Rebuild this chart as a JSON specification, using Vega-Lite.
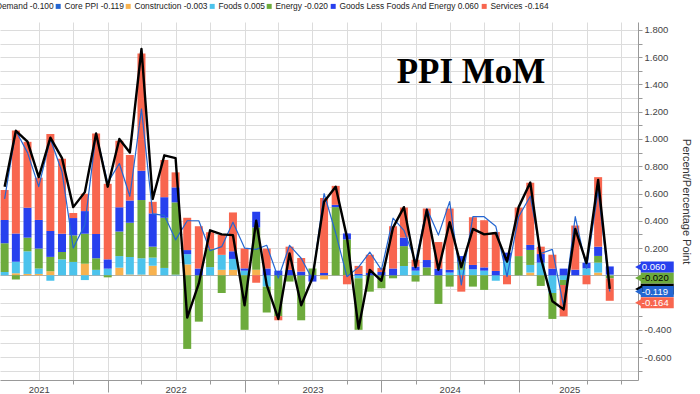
{
  "$schema": "https://vega.github.io/schema/vega-lite/v6.json",
  "width": 638,
  "height": 358,
  "autosize": {"type": "none"},
  "padding": {"left": 0, "top": 22, "right": 62, "bottom": 14},
  "background": "white",
  "config": {
    "view": {"stroke": null},
    "locale": {"number": {"decimal": ".", "thousands": ",", "grouping": [3], "currency": ["$", ""], "minus": "-"}}
  },
  "data": {"values": [
    {"date": "2021-03-31", "Final Demand": 0.65, "Core PPI": 0.56, "Construction": 0.0, "Foods": 0.025, "Energy": 0.21, "Goods Less Foods And Energy": 0.17, "Services": 0.22},
    {"date": "2021-04-30", "Final Demand": 1.06, "Core PPI": 1.06, "Construction": 0.015, "Foods": 0.085, "Energy": -0.03, "Goods Less Foods And Energy": 0.207, "Services": 0.756},
    {"date": "2021-05-31", "Final Demand": 0.98, "Core PPI": 0.9, "Construction": 0.01, "Foods": 0.166, "Energy": 0.1, "Goods Less Foods And Energy": 0.22, "Services": 0.483},
    {"date": "2021-06-30", "Final Demand": 0.72, "Core PPI": 0.65, "Construction": 0.01, "Foods": 0.04, "Energy": 0.146, "Goods Less Foods And Energy": 0.21, "Services": 0.31},
    {"date": "2021-07-31", "Final Demand": 1.01, "Core PPI": 1.0, "Construction": 0.03, "Foods": -0.04, "Energy": 0.105, "Goods Less Foods And Energy": 0.19, "Services": 0.712},
    {"date": "2021-08-31", "Final Demand": 0.86, "Core PPI": 0.76, "Construction": 0.0, "Foods": 0.117, "Energy": 0.054, "Goods Less Foods And Energy": 0.134, "Services": 0.55},
    {"date": "2021-09-30", "Final Demand": 0.5, "Core PPI": 0.2, "Construction": 0.0, "Foods": 0.098, "Energy": 0.195, "Goods Less Foods And Energy": 0.127, "Services": 0.037},
    {"date": "2021-10-31", "Final Demand": 0.61, "Core PPI": 0.37, "Construction": 0.085, "Foods": -0.035, "Energy": 0.22, "Goods Less Foods And Energy": 0.166, "Services": 0.127},
    {"date": "2021-11-30", "Final Demand": 1.04, "Core PPI": 1.04, "Construction": 0.0, "Foods": 0.04, "Energy": 0.085, "Goods Less Foods And Energy": 0.178, "Services": 0.737},
    {"date": "2021-12-31", "Final Demand": 0.65, "Core PPI": 0.68, "Construction": 0.0, "Foods": 0.049, "Energy": -0.015, "Goods Less Foods And Energy": 0.068, "Services": 0.554},
    {"date": "2022-01-31", "Final Demand": 1.0, "Core PPI": 0.82, "Construction": 0.056, "Foods": 0.085, "Energy": 0.18, "Goods Less Foods And Energy": 0.178, "Services": 0.488},
    {"date": "2022-02-28", "Final Demand": 0.9, "Core PPI": 0.58, "Construction": 0.005, "Foods": 0.13, "Energy": 0.25, "Goods Less Foods And Energy": 0.163, "Services": 0.334},
    {"date": "2022-03-31", "Final Demand": 1.66, "Core PPI": 1.22, "Construction": 0.005, "Foods": 0.12, "Energy": 0.427, "Goods Less Foods And Energy": 0.215, "Services": 0.86},
    {"date": "2022-04-30", "Final Demand": 0.56, "Core PPI": 0.45, "Construction": 0.07, "Foods": 0.06, "Energy": 0.08, "Goods Less Foods And Energy": 0.244, "Services": 0.085},
    {"date": "2022-05-31", "Final Demand": 0.88, "Core PPI": 0.44, "Construction": 0.0, "Foods": 0.054, "Energy": 0.368, "Goods Less Foods And Energy": 0.151, "Services": 0.273},
    {"date": "2022-06-30", "Final Demand": 0.86, "Core PPI": 0.26, "Construction": 0.0, "Foods": 0.005, "Energy": 0.53, "Goods Less Foods And Energy": 0.11, "Services": 0.11},
    {"date": "2022-07-31", "Final Demand": -0.31, "Core PPI": 0.4, "Construction": 0.08, "Foods": 0.075, "Energy": -0.54, "Goods Less Foods And Energy": 0.03, "Services": 0.237},
    {"date": "2022-08-31", "Final Demand": -0.06, "Core PPI": 0.4, "Construction": 0.0, "Foods": 0.0, "Energy": -0.34, "Goods Less Foods And Energy": 0.05, "Services": 0.31},
    {"date": "2022-09-30", "Final Demand": 0.33, "Core PPI": 0.18, "Construction": 0.0, "Foods": 0.06, "Energy": 0.134, "Goods Less Foods And Energy": 0.0, "Services": 0.122},
    {"date": "2022-10-31", "Final Demand": 0.3, "Core PPI": 0.21, "Construction": 0.04, "Foods": 0.11, "Energy": -0.13, "Goods Less Foods And Energy": 0.0, "Services": 0.146},
    {"date": "2022-11-30", "Final Demand": 0.295, "Core PPI": 0.39, "Construction": 0.04, "Foods": 0.08, "Energy": 0.0, "Goods Less Foods And Energy": 0.056, "Services": 0.285},
    {"date": "2022-12-31", "Final Demand": -0.22, "Core PPI": 0.2, "Construction": 0.0, "Foods": 0.034, "Energy": -0.4, "Goods Less Foods And Energy": 0.017, "Services": 0.146},
    {"date": "2023-01-31", "Final Demand": 0.4, "Core PPI": 0.19, "Construction": 0.04, "Foods": 0.0, "Energy": 0.31, "Goods Less Foods And Energy": 0.117, "Services": -0.054},
    {"date": "2023-02-28", "Final Demand": -0.07, "Core PPI": 0.22, "Construction": 0.0, "Foods": -0.083, "Energy": -0.19, "Goods Less Foods And Energy": 0.05, "Services": 0.146},
    {"date": "2023-03-31", "Final Demand": -0.32, "Core PPI": -0.02, "Construction": 0.0, "Foods": 0.0, "Energy": -0.3, "Goods Less Foods And Energy": 0.034, "Services": -0.03},
    {"date": "2023-04-30", "Final Demand": 0.16, "Core PPI": 0.22, "Construction": 0.0, "Foods": 0.0, "Energy": -0.046, "Goods Less Foods And Energy": 0.04, "Services": 0.17},
    {"date": "2023-05-31", "Final Demand": -0.22, "Core PPI": 0.125, "Construction": 0.0, "Foods": 0.0, "Energy": -0.33, "Goods Less Foods And Energy": 0.027, "Services": 0.1},
    {"date": "2023-06-30", "Final Demand": -0.02, "Core PPI": -0.03, "Construction": 0.0, "Foods": 0.0, "Energy": 0.05, "Goods Less Foods And Energy": -0.046, "Services": 0.0},
    {"date": "2023-07-31", "Final Demand": 0.54, "Core PPI": 0.6, "Construction": -0.03, "Foods": 0.0, "Energy": 0.0, "Goods Less Foods And Energy": 0.017, "Services": 0.55},
    {"date": "2023-08-31", "Final Demand": 0.65, "Core PPI": 0.31, "Construction": 0.0, "Foods": 0.0, "Energy": 0.5, "Goods Less Foods And Energy": 0.017, "Services": 0.139},
    {"date": "2023-09-30", "Final Demand": 0.28, "Core PPI": -0.01, "Construction": 0.0, "Foods": 0.0, "Energy": 0.263, "Goods Less Foods And Energy": 0.044, "Services": -0.066},
    {"date": "2023-10-31", "Final Demand": -0.39, "Core PPI": 0.06, "Construction": 0.0, "Foods": -0.022, "Energy": -0.378, "Goods Less Foods And Energy": 0.01, "Services": 0.059},
    {"date": "2023-11-30", "Final Demand": 0.04, "Core PPI": 0.17, "Construction": 0.0, "Foods": 0.0, "Energy": -0.12, "Goods Less Foods And Energy": 0.017, "Services": 0.134},
    {"date": "2023-12-31", "Final Demand": -0.04, "Core PPI": 0.04, "Construction": 0.0, "Foods": 0.0, "Energy": -0.095, "Goods Less Foods And Energy": 0.024, "Services": 0.03},
    {"date": "2024-01-31", "Final Demand": 0.35, "Core PPI": 0.42, "Construction": 0.0, "Foods": 0.0, "Energy": -0.022, "Goods Less Foods And Energy": 0.05, "Services": 0.31},
    {"date": "2024-02-29", "Final Demand": 0.5, "Core PPI": 0.33, "Construction": 0.0, "Foods": 0.068, "Energy": 0.146, "Goods Less Foods And Energy": 0.063, "Services": 0.22},
    {"date": "2024-03-31", "Final Demand": 0.06, "Core PPI": 0.1, "Construction": 0.0, "Foods": 0.034, "Energy": -0.046, "Goods Less Foods And Energy": 0.03, "Services": 0.05},
    {"date": "2024-04-30", "Final Demand": 0.48, "Core PPI": 0.49, "Construction": 0.0, "Foods": 0.0, "Energy": 0.058, "Goods Less Foods And Energy": 0.054, "Services": 0.378},
    {"date": "2024-05-31", "Final Demand": 0.04, "Core PPI": 0.295, "Construction": 0.0, "Foods": 0.0, "Energy": -0.21, "Goods Less Foods And Energy": 0.049, "Services": 0.195},
    {"date": "2024-06-30", "Final Demand": 0.39, "Core PPI": 0.54, "Construction": 0.0, "Foods": 0.02, "Energy": -0.083, "Goods Less Foods And Energy": 0.02, "Services": 0.45},
    {"date": "2024-07-31", "Final Demand": 0.06, "Core PPI": -0.07, "Construction": 0.0, "Foods": 0.04, "Energy": 0.06, "Goods Less Foods And Energy": 0.041, "Services": -0.12},
    {"date": "2024-08-31", "Final Demand": 0.34, "Core PPI": 0.43, "Construction": 0.0, "Foods": 0.044, "Energy": -0.083, "Goods Less Foods And Energy": 0.032, "Services": 0.35},
    {"date": "2024-09-30", "Final Demand": 0.3, "Core PPI": 0.43, "Construction": 0.0, "Foods": 0.034, "Energy": -0.107, "Goods Less Foods And Energy": 0.024, "Services": 0.346},
    {"date": "2024-10-31", "Final Demand": 0.31, "Core PPI": 0.36, "Construction": 0.0, "Foods": -0.04, "Energy": 0.0, "Goods Less Foods And Energy": 0.032, "Services": 0.285},
    {"date": "2024-11-30", "Final Demand": 0.1, "Core PPI": -0.01, "Construction": 0.0, "Foods": 0.107, "Energy": 0.0, "Goods Less Foods And Energy": 0.059, "Services": -0.066},
    {"date": "2024-12-31", "Final Demand": 0.5, "Core PPI": 0.43, "Construction": 0.0, "Foods": 0.0, "Energy": 0.141, "Goods Less Foods And Energy": 0.0, "Services": 0.356},
    {"date": "2025-01-31", "Final Demand": 0.68, "Core PPI": 0.58, "Construction": 0.02, "Foods": 0.056, "Energy": 0.11, "Goods Less Foods And Energy": 0.037, "Services": 0.456},
    {"date": "2025-02-28", "Final Demand": 0.13, "Core PPI": 0.16, "Construction": 0.0, "Foods": 0.093, "Energy": -0.078, "Goods Less Foods And Energy": 0.063, "Services": 0.054},
    {"date": "2025-03-31", "Final Demand": -0.19, "Core PPI": 0.19, "Construction": 0.0, "Foods": -0.13, "Energy": -0.19, "Goods Less Foods And Energy": 0.049, "Services": 0.102},
    {"date": "2025-04-30", "Final Demand": -0.25, "Core PPI": -0.23, "Construction": 0.0, "Foods": -0.034, "Energy": -0.037, "Goods Less Foods And Energy": 0.049, "Services": -0.23},
    {"date": "2025-05-31", "Final Demand": 0.34, "Core PPI": 0.43, "Construction": 0.0, "Foods": 0.0, "Energy": 0.0, "Goods Less Foods And Energy": 0.041, "Services": 0.324},
    {"date": "2025-06-30", "Final Demand": 0.09, "Core PPI": 0.05, "Construction": 0.0, "Foods": 0.051, "Energy": 0.0, "Goods Less Foods And Energy": 0.041, "Services": -0.066},
    {"date": "2025-07-31", "Final Demand": 0.7, "Core PPI": 0.62, "Construction": 0.02, "Foods": 0.073, "Energy": 0.049, "Goods Less Foods And Energy": 0.068, "Services": 0.51},
    {"date": "2025-08-31", "Final Demand": -0.1, "Core PPI": -0.119, "Construction": -0.003, "Foods": 0.005, "Energy": -0.02, "Goods Less Foods And Energy": 0.06, "Services": -0.164}
  ]},
  "transform": [
    {"fold": ["Final Demand", "Core PPI", "Construction", "Foods", "Energy", "Goods Less Foods And Energy", "Services"], "as": ["series", "value"]}
  ],
  "encoding": {
    "x": {
      "field": "date", "type": "temporal",
      "scale": {"domain": [{"year": 2021, "month": 4, "date": 1}, {"year": 2025, "month": 11, "date": 1}], "nice": false},
      "axis": {
        "title": null,
        "values": [
          {"year": 2021, "month": 6, "date": 30}, {"year": 2021, "month": 9, "date": 30}, {"year": 2021, "month": 12, "date": 31},
          {"year": 2022, "month": 3, "date": 31}, {"year": 2022, "month": 6, "date": 30}, {"year": 2022, "month": 9, "date": 30}, {"year": 2022, "month": 12, "date": 31},
          {"year": 2023, "month": 3, "date": 31}, {"year": 2023, "month": 6, "date": 30}, {"year": 2023, "month": 9, "date": 30}, {"year": 2023, "month": 12, "date": 31},
          {"year": 2024, "month": 3, "date": 31}, {"year": 2024, "month": 6, "date": 30}, {"year": 2024, "month": 9, "date": 30}, {"year": 2024, "month": 12, "date": 31},
          {"year": 2025, "month": 3, "date": 31}, {"year": 2025, "month": 5, "date": 15}, {"year": 2025, "month": 6, "date": 30}, {"year": 2025, "month": 9, "date": 30}
        ],
        "labelExpr": "((month(datum.value) == 5 && year(datum.value) < 2025) || (month(datum.value) == 4 && date(datum.value) == 15)) ? timeFormat(datum.value, '%Y') : ''",
        "grid": true,
        "gridColor": "#dcdcdc",
        "gridOpacity": {"condition": {"test": "month(datum.value) == 4", "value": 0}, "value": 1},
        "tickOpacity": {"condition": {"test": "(month(datum.value) == 5 && year(datum.value) < 2025) || month(datum.value) == 4", "value": 0}, "value": 1},
        "tickSize": {"condition": {"test": "month(datum.value) == 11", "value": 12}, "value": 4},
        "tickColor": "#999999",
        "domainColor": "#999999",
        "labelFont": "Liberation Sans",
        "labelFontSize": 9.5,
        "labelColor": "#444444",
        "labelOverlap": false,
        "labelFlush": false,
        "labelPadding": 0
      }
    },
    "y": {
      "field": "value", "type": "quantitative",
      "scale": {"domain": [-0.768, 1.858], "nice": false, "zero": false},
      "axis": {
        "orient": "right",
        "title": "Percent/Percentage Point",
        "titleFont": "Liberation Sans",
        "titleFontSize": 11,
        "titleFontWeight": "normal",
        "titleColor": "#333333",
        "titleAngle": 90,
        "titlePadding": 10,
        "values": [-0.7, -0.6, -0.5, -0.4, -0.3, -0.2, -0.1, 0, 0.1, 0.2, 0.3, 0.4, 0.5, 0.6, 0.7, 0.8, 0.9, 1.0, 1.1, 1.2, 1.3, 1.4, 1.5, 1.6, 1.7, 1.8],
        "labelExpr": "abs(round(datum.value * 10)) % 2 == 0 ? format(datum.value, '.3f') : ''",
        "grid": true,
        "gridColor": {"condition": {"test": "datum.value == 0", "value": "#b0b0b0"}, "value": "#dcdcdc"},
        "tickSize": 4,
        "tickColor": "#999999",
        "domainColor": "#999999",
        "labelFont": "Liberation Sans",
        "labelFontSize": 9.5,
        "labelColor": "#444444",
        "labelOverlap": false,
        "labelPadding": 2
      }
    },
    "color": {
      "field": "series", "type": "nominal",
      "scale": {
        "domain": ["Final Demand", "Core PPI", "Construction", "Foods", "Energy", "Goods Less Foods And Energy", "Services"],
        "range": ["#000000", "#2466d1", "#f7b24f", "#4cc3ec", "#6dab3c", "#2740ee", "#f8664f"]
      },
      "legend": {
        "orient": "none", "legendX": -35, "legendY": -20,
        "direction": "horizontal", "title": null,
        "symbolType": "square", "symbolSize": 25, "symbolStrokeWidth": 0,
        "labelFont": "Liberation Sans",
        "labelFontSize": 8.4, "labelColor": "#222222", "labelOffset": 2,
        "columnPadding": -6, "padding": 0, "labelLimit": 0,
        "labelExpr": "datum.label == 'Final Demand' ? 'Final Demand -0.100' : datum.label == 'Core PPI' ? 'Core PPI -0.119' : datum.label == 'Construction' ? 'Construction -0.003' : datum.label == 'Foods' ? 'Foods 0.005' : datum.label == 'Energy' ? 'Energy -0.020' : datum.label == 'Goods Less Foods And Energy' ? 'Goods Less Foods And Energy 0.060' : 'Services -0.164'",
        "encode": {"symbols": {"update": {"fill": {"scale": "color", "field": "value"}, "strokeWidth": {"value": 0}}}}
      }
    }
  },
  "layer": [
    {
      "transform": [
        {"filter": {"field": "series", "oneOf": ["Construction", "Foods", "Energy", "Goods Less Foods And Energy", "Services"]}},
        {"lookup": "series", "from": {"data": {"values": [
          {"series": "Construction", "rank": 1},
          {"series": "Foods", "rank": 2},
          {"series": "Energy", "rank": 3},
          {"series": "Goods Less Foods And Energy", "rank": 4},
          {"series": "Services", "rank": 5}
        ]}, "key": "series", "fields": ["rank"]}}
      ],
      "mark": {"type": "bar", "size": 8},
      "encoding": {
        "y": {"field": "value", "type": "quantitative", "stack": "zero"},
        "order": {"field": "rank", "type": "quantitative", "sort": "ascending"}
      }
    },
    {
      "transform": [{"filter": {"field": "series", "equal": "Core PPI"}}],
      "mark": {"type": "line", "strokeWidth": 1.2, "strokeJoin": "round"}
    },
    {
      "transform": [{"filter": {"field": "series", "equal": "Final Demand"}}],
      "mark": {"type": "line", "strokeWidth": 2.4, "strokeJoin": "round"}
    },
    {
      "transform": [
        {"filter": {"timeUnit": "yearmonth", "field": "date", "equal": {"year": 2025, "month": 8}}},
        {"filter": {"field": "series", "oneOf": ["Final Demand", "Core PPI", "Energy", "Goods Less Foods And Energy", "Services"]}}
      ],
      "mark": {"type": "tick", "orient": "horizontal", "size": 33, "thickness": 11, "opacity": 1, "xOffset": 47.5, "yOffset": {"expr": "datum.series == 'Services' ? 5 : 0"}}
    },
    {
      "transform": [
        {"filter": {"timeUnit": "yearmonth", "field": "date", "equal": {"year": 2025, "month": 8}}},
        {"filter": {"field": "series", "oneOf": ["Final Demand", "Core PPI", "Energy", "Goods Less Foods And Energy", "Services"]}}
      ],
      "mark": {"type": "point", "shape": "triangle-left", "filled": true, "opacity": 1, "size": 70, "xOffset": 29, "yOffset": {"expr": "datum.series == 'Services' ? 5 : 0"}}
    },
    {
      "transform": [
        {"filter": {"timeUnit": "yearmonth", "field": "date", "equal": {"year": 2025, "month": 8}}},
        {"filter": {"field": "series", "oneOf": ["Core PPI", "Energy", "Goods Less Foods And Energy", "Services"]}}
      ],
      "mark": {"type": "text", "align": "left", "baseline": "middle", "xOffset": 32, "yOffset": {"expr": "datum.series == 'Services' ? 5 : 0"}, "font": "Liberation Sans", "fontSize": 9.5},
      "encoding": {
        "text": {"field": "value", "type": "quantitative", "format": ".3f"},
        "color": {"condition": {"test": "datum.series == 'Energy'", "value": "#000000"}, "value": "#ffffff"}
      }
    },
    {
      "transform": [
        {"filter": {"timeUnit": "yearmonth", "field": "date", "equal": {"year": 2025, "month": 8}}},
        {"filter": {"field": "series", "equal": "Final Demand"}}
      ],
      "mark": {"type": "text", "font": "Liberation Serif", "fontWeight": "bold", "fontSize": 35, "align": "center", "baseline": "alphabetic"},
      "encoding": {
        "x": {"datum": {"year": 2024, "month": 8, "date": 26}, "type": "temporal"},
        "y": {"datum": 1.407, "type": "quantitative"},
        "text": {"value": "PPI MoM"},
        "color": {"value": "#000000"}
      }
    }
  ]
}
